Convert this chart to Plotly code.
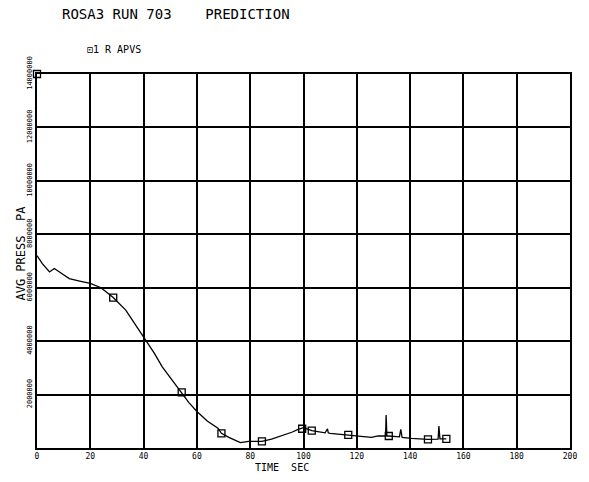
import plotly.graph_objects as go

# Curve: time (s) and average pressure (Pa)
time_s = [0, 2, 4.7, 6.5, 9, 12.1, 16, 20, 24, 28.6, 33.3, 37, 40.2, 44, 47, 51, 54.3, 57, 60.1, 64, 67.9, 69.2,
          72, 76.3, 79.4, 84.4, 88, 90.7, 95.6, 98, 100, 103.1, 106, 108.1, 109, 109.3, 110, 116.8, 121, 125.5,
          128, 130.8, 131, 131.3, 132, 136, 136.5, 137, 140.5, 146.7, 150.5, 150.8, 151.2, 153.6]
press_pa = [7.2e6, 6.9e6, 6.59e6, 6.72e6, 6.55e6, 6.34e6, 6.25e6, 6.16e6, 6.0e6, 5.63e6, 5.16e6, 4.6e6, 4.1e6, 3.55e6,
            3.04e6, 2.5e6, 2.08e6, 1.7e6, 1.36e6, 1.0e6, 0.74e6, 0.55e6,
            0.4e6, 0.2e6, 0.25e6, 0.25e6, 0.33e6, 0.42e6, 0.59e6, 0.7e6, 0.76e6, 0.65e6, 0.6e6, 0.57e6, 0.72e6,
            0.57e6, 0.55e6, 0.49e6, 0.45e6, 0.4e6,
            0.45e6, 0.45e6, 1.23e6, 0.45e6, 0.45e6, 0.42e6, 0.7e6, 0.4e6, 0.36e6, 0.32e6, 0.33e6, 0.82e6, 0.34e6, 0.34e6]

# Plot symbols along the curve
marker_t = [0, 28.6, 54.3, 69.2, 84.4, 99.5, 103.1, 116.8, 132, 146.7, 153.6]
marker_p = [14.0e6, 5.63e6, 2.08e6, 0.55e6, 0.25e6, 0.72e6, 0.65e6, 0.49e6, 0.45e6, 0.32e6, 0.34e6]

x_ticks = [0, 20, 40, 60, 80, 100, 120, 140, 160, 180, 200]
x_labels = ["0", "20", "40", "60", "80", "100", "120", "140", "160", "180", "200"]
y_ticks = [2e6, 4e6, 6e6, 8e6, 10e6, 12e6, 14e6]
y_labels = ["2000000", "4000000", "6000000", "8000000", "10000000", "12000000", "14000000"]

FONT = "DejaVu Sans Mono"

fig = go.Figure()
fig.add_trace(go.Scatter(x=time_s, y=press_pa, mode="lines",
                         line=dict(color="black", width=1.3), showlegend=False))
fig.add_trace(go.Scatter(x=marker_t, y=marker_p, mode="markers",
                         marker=dict(symbol="square-open", size=7, color="black", line=dict(width=1.3)),
                         showlegend=False, cliponaxis=False))

fig.update_layout(
    width=589, height=482,
    margin=dict(l=37, r=17, t=74, b=34),
    paper_bgcolor="white", plot_bgcolor="white",
    font=dict(family=FONT, color="black"),
    xaxis=dict(range=[0, 200], tickvals=x_ticks, ticktext=x_labels,
               showgrid=True, gridcolor="black", gridwidth=1.5,
               showline=True, linecolor="black", linewidth=1.5, mirror=True,
               zeroline=False, ticks="", tickfont=dict(size=8, family=FONT)),
    yaxis=dict(range=[0, 14e6], tickvals=y_ticks, ticktext=y_labels, tickangle=-90,
               showgrid=True, gridcolor="black", gridwidth=1.5,
               showline=True, linecolor="black", linewidth=1.5, mirror=True,
               zeroline=False, ticks="", tickfont=dict(size=7, family=FONT)),
    annotations=[
        dict(text="ROSA3 RUN 703    PREDICTION", xref="paper", yref="paper", x=0.043, y=1.16,
             xanchor="left", yanchor="middle", showarrow=False, font=dict(size=14, family=FONT)),
        dict(text="\u22a11 R APVS", xref="paper", yref="paper", x=0.09, y=1.065,
             xanchor="left", yanchor="middle", showarrow=False, font=dict(size=10, family=FONT)),
        dict(text="TIME  SEC", xref="paper", yref="paper", x=0.46, y=-0.053,
             xanchor="center", yanchor="middle", showarrow=False, font=dict(size=10, family=FONT)),
        dict(text="AVG PRESS  PA", xref="paper", yref="paper", x=-0.03, y=0.52,
             xanchor="center", yanchor="middle", textangle=-90, showarrow=False,
             font=dict(size=12, family=FONT)),
    ],
)

fig.write_html("out.html")
